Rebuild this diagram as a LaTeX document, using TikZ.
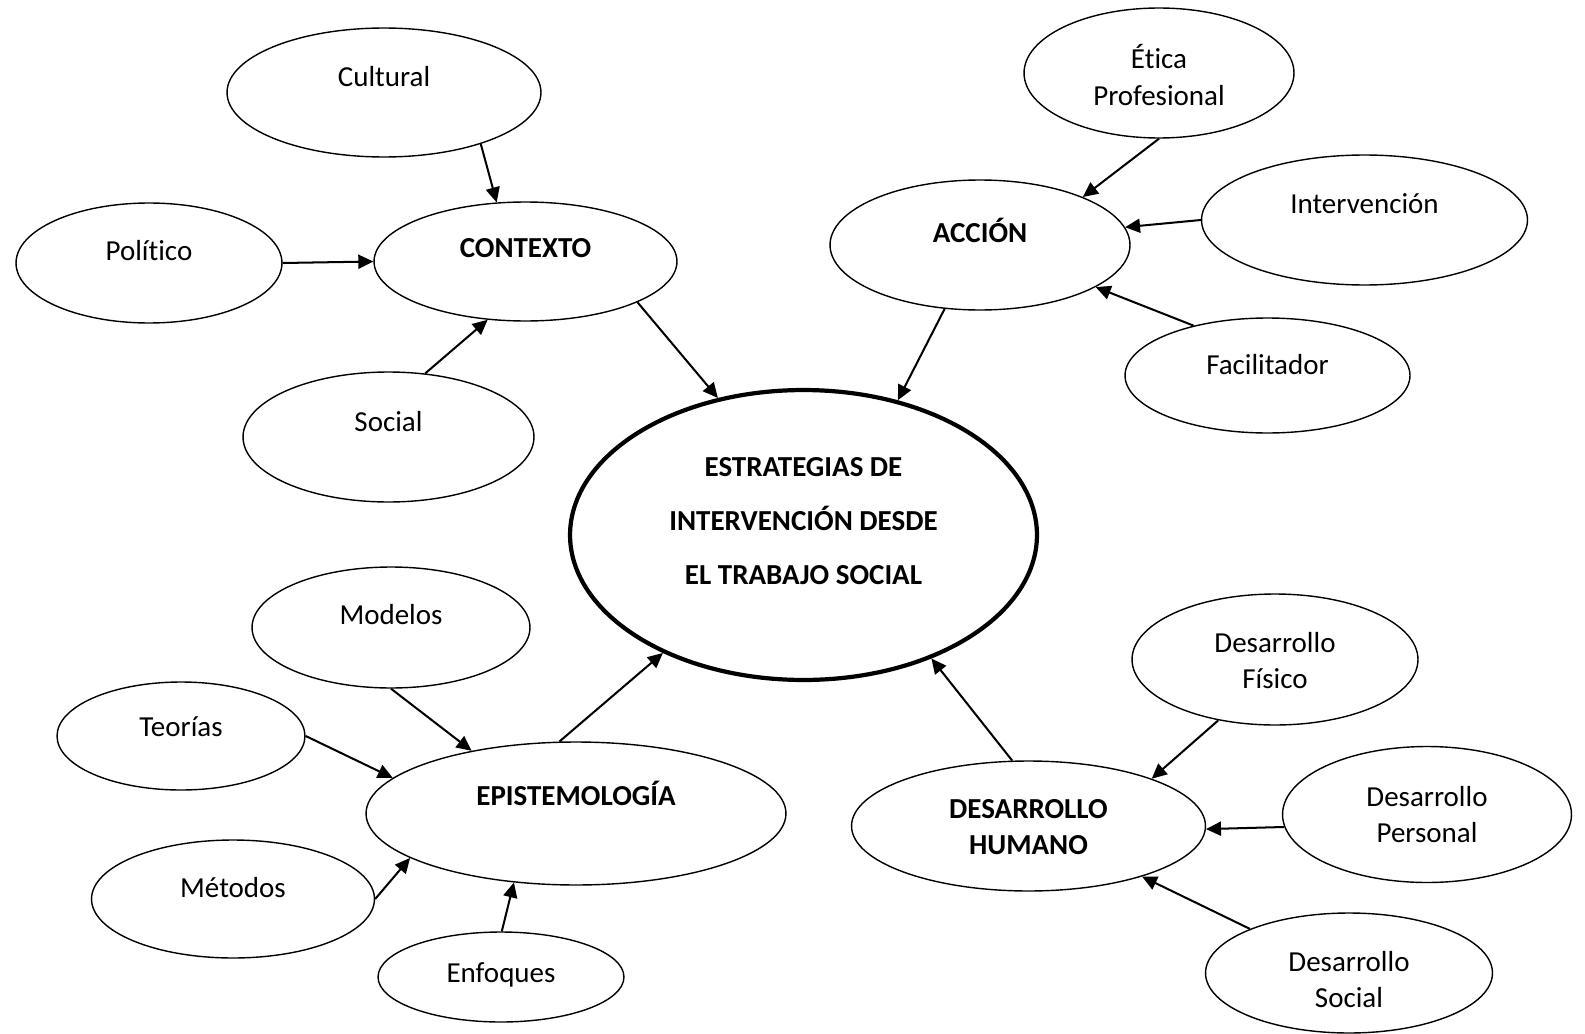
\documentclass[tikz,border=0pt]{standalone}
\usepackage{fontspec}
\setmainfont{Carlito}[Ligatures=NoCommon]
\usetikzlibrary{arrows.meta, shapes.geometric}
\tikzset{
  oval/.style 2 args={
    ellipse, draw=black, line width=0.8pt,
    minimum width=#1, minimum height=#2, inner sep=0pt,
  },
  txt/.style={
    font=\fontsize{16.5}{20.5}\selectfont, align=center,
    inner sep=0pt, text=black,
  },
  btxt/.style={txt, font=\fontsize{16.5}{20.5}\selectfont\bfseries},
  arr/.style={
    -{Triangle[length=0.3cm,width=0.28cm]},
    line width=1.15pt, color=black,
  },
}
\begin{document}
\begin{tikzpicture}[x=0.02cm,y=-0.02cm]
  \useasboundingbox (0,0) rectangle (1585,1034);
  % central node
  \node[oval={9.34cm}{5.80cm}, line width=2.4pt] (cen) at (803.5,535) {};
  \node[btxt, font=\fontsize{16.5}{30.7}\selectfont\bfseries] (cen-t) at (803.5,521)
        {ESTRATEGIAS DE\\INTERVENCIÓN DESDE\\EL TRABAJO SOCIAL};
  % contexto
  \node[oval={6.06cm}{2.38cm}] (ctx) at (525.5,261.5) {};
  \node[btxt] (ctx-t) at (525.5,248) {CONTEXTO};
  \node[oval={6.28cm}{2.58cm}] (cul) at (384,92.5) {};
  \node[txt] (cul-t) at (384,77) {Cultural};
  \node[oval={5.32cm}{2.40cm}] (pol) at (149,263) {};
  \node[txt] (pol-t) at (149,251) {Político};
  \node[oval={5.82cm}{2.60cm}] (soc) at (388.5,437) {};
  \node[txt] (soc-t) at (388.5,422) {Social};
  % accion
  \node[oval={6.00cm}{2.60cm}] (acc) at (980,245) {};
  \node[btxt] (acc-t) at (980,230) {ACCIÓN};
  \node[oval={5.40cm}{2.60cm}] (eti) at (1159,73) {};
  \node[txt] (eti-t) at (1159,75) {Ética\\Profesional};
  \node[oval={6.52cm}{2.60cm}] (int) at (1364.5,220) {};
  \node[txt] (int-t) at (1364.5,204) {Intervención};
  \node[oval={5.70cm}{2.30cm}] (fac) at (1267.5,375.5) {};
  \node[txt] (fac-t) at (1267.5,365) {Facilitador};
  % epistemologia
  \node[oval={8.40cm}{2.86cm}] (epi) at (576,813.5) {};
  \node[btxt] (epi-t) at (576,793) {EPISTEMOLOGÍA};
  \node[oval={5.56cm}{2.42cm}] (mod) at (391,627.5) {};
  \node[txt] (mod-t) at (391,615) {Modelos};
  \node[oval={4.96cm}{2.16cm}] (teo) at (181,736) {};
  \node[txt] (teo-t) at (181,727) {Teorías};
  \node[oval={5.66cm}{2.36cm}] (met) at (233,899) {};
  \node[txt] (met-t) at (233,888) {Métodos};
  \node[oval={4.92cm}{1.80cm}] (enf) at (501,977) {};
  \node[txt] (enf-t) at (501,975) {Enfoques};
  % desarrollo humano
  \node[oval={7.08cm}{2.60cm}] (dh) at (1028.5,826) {};
  \node[btxt] (dh-t) at (1028.5,827) {DESARROLLO\\HUMANO};
  \node[oval={5.72cm}{2.62cm}] (fis) at (1275,659.5) {};
  \node[txt] (fis-t) at (1275,661) {Desarrollo\\Físico};
  \node[oval={5.78cm}{2.72cm}] (per) at (1427,814.5) {};
  \node[txt] (per-t) at (1427,815) {Desarrollo\\Personal};
  \node[oval={5.74cm}{2.40cm}] (sds) at (1349,973) {};
  \node[txt] (sds-t) at (1349,979.5) {Desarrollo\\Social};
  % connectors
  \draw[arr] (cul.-28)   -- (ctx.116);
  \draw[arr] (pol.0)     -- (ctx.180);
  \draw[arr] (soc.60)    -- (ctx.237.5);
  \draw[arr] (ctx.-20)   -- (cen.122.6);
  \draw[arr] (eti.-90)   -- (acc.25.5);
  \draw[arr] (int.180)   -- (acc.7);
  \draw[arr] (fac.146.6) -- (acc.-20);
  \draw[arr] (acc.241)   -- (cen.55.7);
  \draw[arr] (mod.-90.5) -- (epi.149.5);
  \draw[arr] (teo.-0.5)  -- (epi.169.6);
  \draw[arr] (met.0)     -- (epi.195.3);
  \draw[arr] (enf.89.4)  -- (epi.228.4);
  \draw[arr] (epi.103.6) -- (cen.220);
  \draw[arr] (fis.227.3) -- (dh.21.4);
  \draw[arr] (per.185.5) -- (dh.-1.5);
  \draw[arr] (sds.156.5) -- (dh.-24.8);
  \draw[arr] (dh.104.2)  -- (cen.-44.6);
\end{tikzpicture}
\end{document}
